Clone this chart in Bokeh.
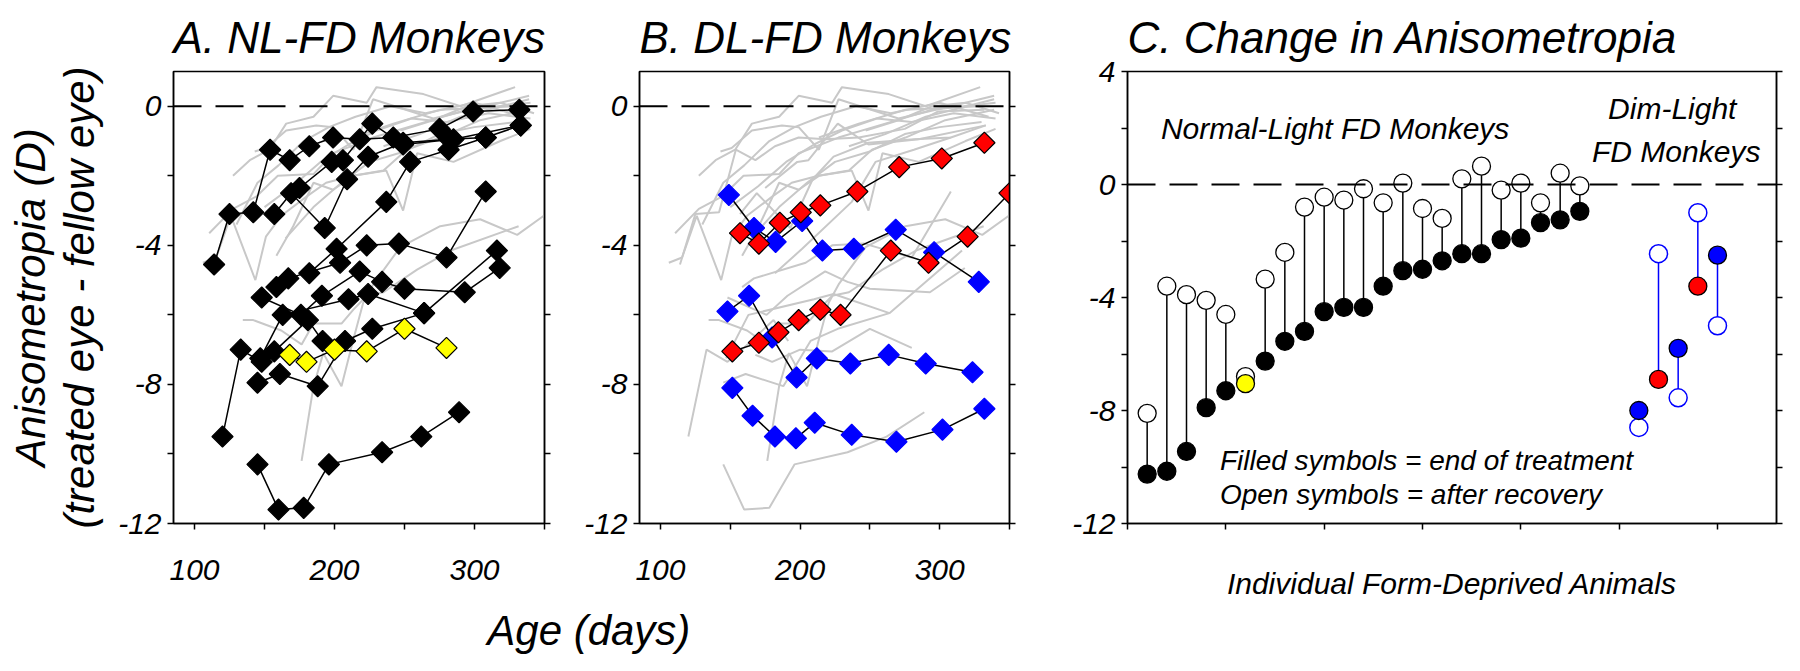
import math
from bokeh.plotting import figure
from bokeh.models import FixedTicker, LinearAxis, Span, Range1d, Label
from bokeh.layouts import row, column
from bokeh.embed import file_html
from bokeh.resources import INLINE

FONT = "Liberation Sans"
GRAY = "#c8c8c8"
BLUE = "#0000ff"
RED = "#ff0000"
YELLOW = "#ffff00"

# ---------------- data: panel A (normal-light form-deprived, black) ----------------
nl_ages = [
    [114, 125, 142, 154, 168, 182, 199, 218, 242, 275, 299, 332],
    [157, 169, 193, 209, 224, 249, 282, 308, 333],
    [175, 198, 206, 227, 249, 285, 333],
    [182, 201.5, 237, 254, 281.5, 308],
    [158.5, 167, 204, 223, 246, 280, 308],
    [148, 176, 191, 218, 234, 250, 293, 318],
    [147, 163, 210, 224, 264, 316],
    [145, 161, 188, 207.5, 227, 264],
    [120, 133, 148, 157, 181, 191.5],
    [145, 160, 178, 196, 234, 262, 289],
]
nl_aniso = [
    [-4.55, -3.1, -3.05, -1.25, -1.55, -1.15, -0.9, -0.95, -0.9, -0.65, -0.15, -0.1],
    [-3.1, -2.5, -3.5, -2.1, -1.45, -1.05, -0.95, -0.9, -0.55],
    [-2.35, -1.6, -1.55, -0.5, -1.1, -0.95, -0.55],
    [-4.8, -4.1, -2.75, -1.6, -1.25, -0.9],
    [-5.2, -4.95, -4.5, -4.0, -3.95, -4.35, -2.45],
    [-5.5, -6.0, -5.45, -4.75, -5.05, -5.25, -5.35, -4.65],
    [-7.25, -6.0, -5.55, -5.4, -5.95, -4.15],
    [-7.95, -7.7, -8.05, -6.75, -6.4, -5.95],
    [-9.5, -7.0, -7.35, -7.05, -6.15, -6.75],
    [-10.3, -11.6, -11.55, -10.3, -9.95, -9.5, -8.8],
]
yellow_age = [168, 180, 200, 223, 250, 280]
yellow_aniso = [-7.15, -7.35, -7.0, -7.05, -6.4, -6.95]

# ---------------- data: panel B (dim-light form-deprived) ----------------
dl_red_ages = [
    [157, 170.5, 185.5, 200.5, 214.5, 241, 271, 301.5, 332],
    [151.5, 170.5, 184.5, 199, 214.5, 229, 265, 292, 320, 350],
]
dl_red_aniso = [
    [-3.65, -3.95, -3.35, -3.05, -2.85, -2.45, -1.75, -1.5, -1.05],
    [-7.05, -6.8, -6.5, -6.15, -5.85, -6.0, -4.15, -4.5, -3.75, -2.5],
]
dl_blue_ages = [
    [149, 167, 182.5, 201.5, 216, 238.5, 268.5, 296, 328],
    [148, 163.5, 180, 197.5, 212, 236, 263.5, 290, 323.5],
    [151.5, 166, 182, 197, 210.5, 237, 269, 302, 332],
]
dl_blue_aniso = [
    [-2.55, -3.5, -3.9, -3.3, -4.15, -4.1, -3.55, -4.2, -5.05],
    [-5.9, -5.45, -6.65, -7.8, -7.25, -7.4, -7.15, -7.4, -7.65],
    [-8.1, -8.9, -9.5, -9.55, -9.1, -9.45, -9.65, -9.3, -8.7],
]

# ---------------- data: grey background animals ----------------
other_ages = [
    [106, 115.5, 126, 143.5, 151, 162, 180, 194, 213, 235, 251.5, 275.5, 304, 339],
    [110.5, 127.5, 144, 159.5, 185, 199, 227.5, 261, 294.5, 340],
    [127.5, 139.5, 153.5, 165.5, 185, 199, 223, 230, 263.5, 290, 329],
    [143, 151, 165.5, 187, 199, 213.5, 227.5, 247, 270.5, 318.5, 339],
    [158.5, 170.5, 185, 199, 213.5, 237, 249, 259, 285, 318.5, 340],
    [176.5, 185, 192, 205, 213.5, 220.5, 228, 247, 275.5, 304, 330.5, 349.5],
    [134.5, 142, 162, 176.5, 185, 205, 213.5, 223, 235, 259, 283, 331.5],
    [247, 270.5, 294.5, 318.5, 342.5],
    [235, 261, 290, 339],
    [213.5, 242, 275.5, 328],
    [130, 145, 160, 178, 196, 215, 240, 265, 300, 335],
    [150, 170, 190, 210, 230, 255, 280, 310, 340],
    [165, 185, 205, 225, 250, 275, 300, 330],
]
other_aniso = [
    [-4.5, -4.35, -3.15, -5.0, -3.75, -3.15, -2.6, -2.2, -2.0, -1.85, -1.25, -0.9, -0.4, -0.1],
    [-3.65, -2.95, -2.6, -2.0, -1.95, -1.35, -0.9, -0.5, -0.1, 0.1],
    [-2.0, -1.55, -1.25, -0.5, -0.3, 0.3, 0.1, 0.55, 0.35, 0.0, 0.55],
    [-1.3, -1.2, -0.7, -0.55, -0.6, -1.25, 0.2, -0.05, -0.35, 0.1, 0.3],
    [-4.3, -3.45, -2.2, -2.4, -2.0, -1.85, -3.0, -1.35, -1.6, -1.0, -0.65],
    [-10.2, -8.05, -7.1, -8.05, -6.7, -5.65, -5.1, -4.05, -3.45, -3.25, -3.7, -3.15],
    [-6.15, -6.15, -6.45, -6.85, -6.25, -6.25, -5.85, -5.45, -5.35, -4.7, -4.15, -3.45],
    [-0.7, -0.4, 0.0, 0.1, -0.2],
    [-1.15, -0.8, -0.3, 0.2],
    [-0.9, -0.5, -0.1, 0.0],
    [-3.4, -2.2, -1.7, -1.0, -0.6, -0.3, 0.0, -0.2, 0.1, -0.3],
    [-2.9, -2.3, -1.6, -1.1, -0.7, -0.35, -0.45, -0.2, -0.35],
    [-3.8, -2.9, -2.2, -1.6, -1.3, -0.8, -0.6, -0.45],
]

# ---------------- data: panel C ----------------
nl_animal = list(range(1, 24))
nl_end = [-10.25, -10.15, -9.45, -7.9, -7.3, -7.05, -6.25, -5.55, -5.2, -4.5, -4.35, -4.35,
          -3.6, -3.05, -3.0, -2.7, -2.45, -2.45, -1.95, -1.9, -1.35, -1.25, -0.95]
nl_recovery = [-8.1, -3.6, -3.9, -4.1, -4.6, -6.8, -3.35, -2.4, -0.8, -0.45, -0.55, -0.15,
               -0.65, 0.05, -0.85, -1.2, 0.2, 0.65, -0.2, 0.05, -0.65, 0.4, -0.05]
nl_end_color = ["black"] * 5 + [YELLOW] + ["black"] * 17
dl_animal = [26, 27, 28, 29, 30]
dl_end = [-8.0, -6.9, -5.8, -3.6, -2.5]
dl_recovery = [-8.6, -2.45, -7.55, -1.0, -5.0]
dl_end_color = [BLUE, RED, BLUE, RED, BLUE]

age_ticks = [100, 150, 200, 250, 300, 350]
aniso_ticks = [-12, -10, -8, -6, -4, -2, 0]
change_ticks = [-12, -10, -8, -6, -4, -2, 0, 2, 4]
animal_ticks = [0, 5, 10, 15, 20, 25, 30]


def flat(lists):
    return [v for l in lists for v in l]


def style_axis(ax, ticks, labels_every, size="30px", standoff=6):
    ax.ticker = FixedTicker(ticks=ticks)
    ax.major_label_overrides = {t: ("" if t not in labels_every else str(t)) for t in ticks}
    ax.minor_tick_line_color = None
    ax.major_tick_in = 0
    ax.major_tick_out = 6
    ax.major_tick_line_width = 1.5
    ax.axis_line_width = 1.5
    ax.axis_line_color = "black"
    ax.major_tick_line_color = "black"
    ax.major_label_text_font = FONT
    ax.major_label_text_font_style = "italic"
    ax.major_label_text_font_size = size
    ax.major_label_text_color = "black"
    ax.major_label_standoff = standoff
    ax.axis_label_text_font = FONT
    ax.axis_label_text_font_style = "italic"
    ax.axis_label_text_color = "black"


def mirror_axis(p, ticks, side):
    ax = LinearAxis(ticker=FixedTicker(ticks=ticks))
    ax.major_label_overrides = {t: "" for t in ticks}
    ax.major_label_standoff = 0
    ax.minor_tick_line_color = None
    ax.major_tick_in = 0
    ax.major_tick_out = 6
    ax.major_tick_line_width = 1.5
    ax.axis_line_width = 1.5
    p.add_layout(ax, side)


def make_fig(fw, fh, xr, yr, title, bl, br, bt, bb):
    p = figure(frame_width=fw, frame_height=fh, x_range=Range1d(*xr), y_range=Range1d(*yr),
               output_backend="svg", toolbar_location=None,
               min_border_left=bl, min_border_right=br, min_border_top=bt, min_border_bottom=bb)
    p.title.text = title
    p.title.text_font = FONT
    p.title.text_font_style = "italic"
    p.title.text_font_size = "44px"
    p.title.text_color = "black"
    p.title.align = "left"
    p.title.standoff = 20
    p.grid.visible = False
    p.outline_line_color = "black"
    p.outline_line_width = 1.5
    p.background_fill_color = "white"
    p.border_fill_color = "white"
    p.add_layout(Span(location=0, dimension="width", line_color="black",
                      line_width=2, line_dash="28 14"))
    return p


def diamonds(p, xs, ys, fill, line):
    p.scatter(xs, ys, marker="square", angle=math.pi / 4, size=15,
              fill_color=fill, line_color=line, line_width=1.2)


TOP = 71
FRAME_H = 452
AB_BOTTOM = 75
AB_H = TOP + FRAME_H + AB_BOTTOM
TOTAL_H = 655

# ---------------- Panel A ----------------
pa = make_fig(371, FRAME_H, (85, 350), (-12, 1), "A. NL-FD Monkeys", 173, 26, TOP, AB_BOTTOM)
style_axis(pa.xaxis[0], age_ticks, [100, 200, 300], standoff=30)
style_axis(pa.yaxis[0], aniso_ticks, [-12, -8, -4, 0])
pa.yaxis[0].axis_label = "(treated eye - fellow eye)"
pa.yaxis[0].axis_label_text_font_size = "42px"
pa.yaxis[0].axis_label_standoff = 12
outer = LinearAxis(ticker=FixedTicker(ticks=[]), axis_label="Anisometropia (D)")
outer.axis_line_color = None
outer.major_tick_line_color = None
outer.minor_tick_line_color = None
outer.major_label_standoff = 0
outer.axis_label_standoff = 0
outer.axis_label_text_font = FONT
outer.axis_label_text_font_style = "italic"
outer.axis_label_text_font_size = "42px"
outer.axis_label_text_color = "black"
pa.add_layout(outer, "left")
mirror_axis(pa, aniso_ticks, "right")

pa.multi_line(other_ages, other_aniso, line_color=GRAY, line_width=2)
pa.multi_line(nl_ages, nl_aniso, line_color="black", line_width=1.5)
pa.line(yellow_age, yellow_aniso, line_color="black", line_width=1.5)
diamonds(pa, flat(nl_ages), flat(nl_aniso), "black", "black")
diamonds(pa, yellow_age, yellow_aniso, YELLOW, "black")

# ---------------- Panel B ----------------
pb = make_fig(370, FRAME_H, (85, 350), (-12, 1), "B. DL-FD Monkeys", 69, 51, TOP, AB_BOTTOM)
style_axis(pb.xaxis[0], age_ticks, [100, 200, 300], standoff=30)
style_axis(pb.yaxis[0], aniso_ticks, [-12, -8, -4, 0])
mirror_axis(pb, aniso_ticks, "right")

pb.multi_line(other_ages, other_aniso, line_color=GRAY, line_width=2)
pb.multi_line(nl_ages, nl_aniso, line_color=GRAY, line_width=2)
pb.line(yellow_age, yellow_aniso, line_color=GRAY, line_width=2)
pb.multi_line(dl_blue_ages, dl_blue_aniso, line_color="black", line_width=1.5)
pb.multi_line(dl_red_ages, dl_red_aniso, line_color="black", line_width=1.5)
diamonds(pb, flat(dl_blue_ages), flat(dl_blue_aniso), BLUE, BLUE)
diamonds(pb, flat(dl_red_ages), flat(dl_red_aniso), RED, "black")

# ---------------- Age label strip ----------------
AGE_H = TOTAL_H - AB_H
pg = figure(width=1060, height=AGE_H, x_range=Range1d(0, 1), y_range=Range1d(0, 1),
            output_backend="svg", toolbar_location=None, min_border=0)
pg.axis.visible = False
pg.grid.visible = False
pg.outline_line_color = None
pg.add_layout(Label(x=0.555, y=0.43, text="Age (days)", text_align="center",
                    text_baseline="middle", text_font=FONT, text_font_style="italic",
                    text_font_size="42px", text_color="black"))

# ---------------- Panel C ----------------
pc = make_fig(649, FRAME_H, (0, 33), (-12, 4), "C. Change in Anisometropia", 67, 8, TOP,
              TOTAL_H - TOP - FRAME_H)
style_axis(pc.xaxis[0], animal_ticks, [], standoff=0)
pc.xaxis[0].axis_label = "Individual Form-Deprived Animals"
pc.xaxis[0].axis_label_text_font_size = "30px"
pc.xaxis[0].axis_label_standoff = 37
style_axis(pc.yaxis[0], change_ticks, [-12, -8, -4, 0, 4])
mirror_axis(pc, change_ticks, "right")

pc.segment(nl_animal, nl_end, nl_animal, nl_recovery, line_color="black", line_width=1.5)
pc.segment(dl_animal, dl_end, dl_animal, dl_recovery, line_color=BLUE, line_width=1.5)
pc.scatter(nl_animal, nl_recovery, marker="circle", size=18, fill_color="white",
           line_color="black", line_width=1.3)
pc.scatter(dl_animal, dl_recovery, marker="circle", size=18, fill_color="white",
           line_color=BLUE, line_width=1.5)
pc.scatter(nl_animal, nl_end, marker="circle", size=18, fill_color=nl_end_color,
           line_color="black", line_width=1.3)
pc.scatter(dl_animal, dl_end, marker="circle", size=18, fill_color=dl_end_color,
           line_color="black", line_width=1.3)

for txt, x, y, al, sz in [
    ("Normal-Light FD Monkeys", 1.7, 1.98, "left", "30px"),
    ("Dim-Light", 27.7, 2.69, "center", "30px"),
    ("FD Monkeys", 27.9, 1.17, "center", "30px"),
    ("Filled symbols = end of treatment", 4.7, -9.77, "left", "28px"),
    ("Open symbols = after recovery", 4.7, -10.97, "left", "28px"),
]:
    pc.add_layout(Label(x=x, y=y, text=txt, text_align=al, text_baseline="middle",
                        text_font=FONT, text_font_style="italic", text_font_size=sz,
                        text_color="black"))

layout = row(column(row(pa, pb), pg), pc)
open("out.html", "w").write(file_html(layout, INLINE))
